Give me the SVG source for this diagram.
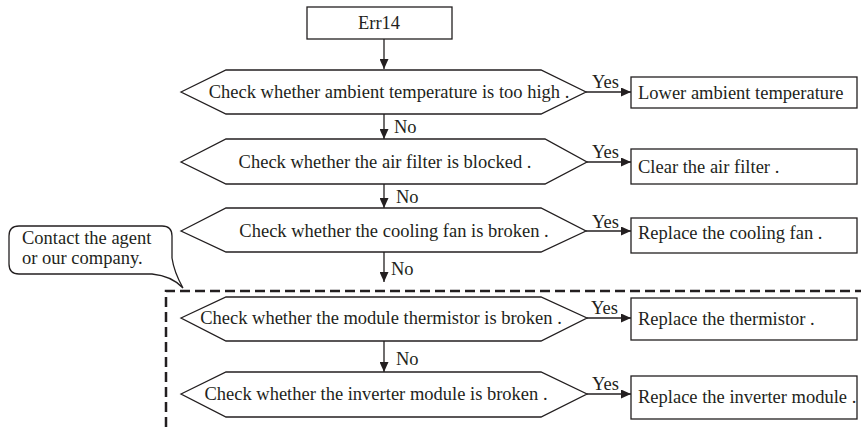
<svg xmlns="http://www.w3.org/2000/svg" width="861" height="427" viewBox="0 0 861 427">
<style>
.s{fill:#fff;stroke:#231f20;stroke-width:1.3}
.t{font-family:"Liberation Serif","Times New Roman",serif;font-size:18.5px;fill:#231f20}
.c{text-anchor:middle}
.l{stroke:#231f20;stroke-width:1.3;fill:none}
</style>
<defs>
<marker id="ad" markerWidth="10" markerHeight="9" refX="10" refY="4.5" orient="auto" markerUnits="userSpaceOnUse">
<path d="M0,0 L10,4.5 L0,9 Z" fill="#231f20"/>
</marker>
</defs>
<rect width="861" height="427" fill="#fff"/>
<g id="err14"><rect class="s" x="307" y="7" width="145" height="32"/><text class="t c" x="379" y="29">Err14</text></g>
<g id="q1"><polygon class="s" points="181,92 226,70 541,70 586,92 541,114 226,114"/><text class="t c" x="389" y="98">Check whether ambient temperature is too high .</text></g>
<g id="a1"><rect class="s" x="631" y="77" width="226" height="31"/><text class="t" x="638" y="99">Lower ambient temperature</text></g>
<g id="q2"><polygon class="s" points="181,162 226,139 545,139 587,162 545,184 226,184"/><text class="t c" x="385" y="168">Check whether the air filter is blocked .</text></g>
<g id="a2"><rect class="s" x="631" y="149" width="226" height="35"/><text class="t" x="638" y="173">Clear the air filter .</text></g>
<g id="q3"><polygon class="s" points="181,231 226,208 541,208 586,231 541,252 226,252"/><text class="t c" x="394" y="237">Check whether the cooling fan is broken .</text></g>
<g id="a3"><rect class="s" x="631" y="218" width="226" height="35"/><text class="t" x="638" y="239">Replace the cooling fan .</text></g>
<g id="q4"><polygon class="s" points="181,318 226,297 541,297 587,318 541,341 226,341"/><text class="t c" x="381" y="324">Check whether the module thermistor is broken .</text></g>
<g id="a4"><rect class="s" x="631" y="298" width="226" height="42"/><text class="t" x="638" y="325">Replace the thermistor .</text></g>
<g id="q5"><polygon class="s" points="181,394 226,372 541,372 587,394 541,417 226,417"/><text class="t c" x="376" y="400">Check whether the inverter module is broken .</text></g>
<g id="a5"><rect class="s" x="631" y="376" width="226" height="43"/><text class="t" x="638" y="403">Replace the inverter module .</text></g>
<g id="note">
<path class="s" d="M19,226 H162 Q172,226 172,236 V258 Q174,272 183,288 Q172,276 152,274 H19 Q9,274 9,264 V236 Q9,226 19,226 Z"/>
<text class="t" x="22" y="244">Contact the agent</text>
<text class="t" x="22" y="264">or our company.</text>
</g>
<g id="group"><path d="M166,427 V291 H861" fill="none" stroke="#231f20" stroke-width="2.5" stroke-dasharray="10,5"/></g>
<g id="connectors">
<line class="l" x1="384" y1="39" x2="384" y2="69" marker-end="url(#ad)"/>
<line class="l" x1="384" y1="114" x2="384" y2="139" marker-end="url(#ad)"/>
<line class="l" x1="384" y1="184" x2="384" y2="208" marker-end="url(#ad)"/>
<line class="l" x1="384" y1="252" x2="384" y2="282" marker-end="url(#ad)"/>
<line class="l" x1="384" y1="341" x2="384" y2="372" marker-end="url(#ad)"/>
<line class="l" x1="586" y1="92" x2="631" y2="92" marker-end="url(#ad)"/>
<line class="l" x1="587" y1="162" x2="631" y2="162" marker-end="url(#ad)"/>
<line class="l" x1="586" y1="231" x2="631" y2="231" marker-end="url(#ad)"/>
<line class="l" x1="587" y1="318" x2="631" y2="318" marker-end="url(#ad)"/>
<line class="l" x1="587" y1="394" x2="631" y2="394" marker-end="url(#ad)"/>
<text class="t" x="394" y="133">No</text>
<text class="t" x="396" y="203">No</text>
<text class="t" x="391" y="275">No</text>
<text class="t" x="396" y="365">No</text>
<text class="t" x="592" y="88">Yes</text>
<text class="t" x="592" y="158">Yes</text>
<text class="t" x="592" y="228">Yes</text>
<text class="t" x="591" y="314">Yes</text>
<text class="t" x="592" y="390">Yes</text>
</g>
</svg>
